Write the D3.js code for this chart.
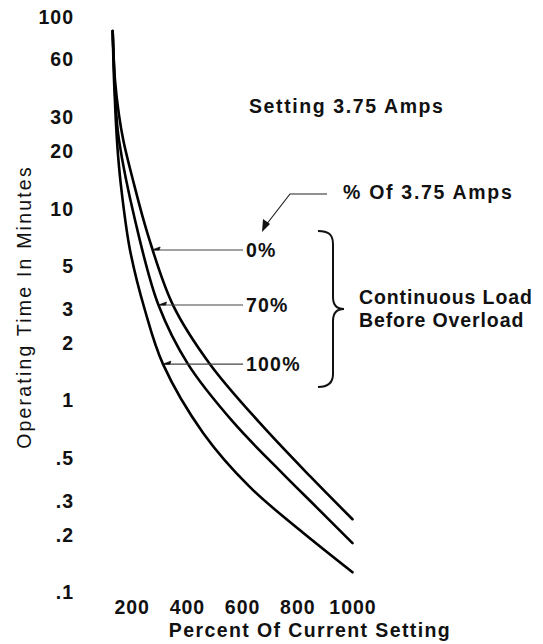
<!DOCTYPE html>
<html>
<head>
<meta charset="utf-8">
<script src="https://cdn.jsdelivr.net/npm/d3@7"></script>
<style>
  body { margin: 0; background: #fff; }
  text { font-family: "Liberation Sans", Arial, sans-serif; fill: #111; }
</style>
</head>
<body>
<div id="chart"></div>
<script>
// axis ticks
var pctTicks = [200, 400, 600, 800, 1000];
var minTicks = [100, 60, 30, 20, 10, 5, 3, 2, 1, 0.5, 0.3, 0.2, 0.1];
var minLabels = ["100", "60", "30", "20", "10", "5", "3", "2", "1", ".5", ".3", ".2", ".1"];

// curves: percent of setting vs operating time (minutes)
var curveNames = ["0%", "70%", "100%"];
var pct0 = [131, 139.5, 154, 169.6, 204.7, 259, 349.6, 483.7, 665, 846, 1000];
var min0 = [84.5, 46.9, 30.8, 22.8, 14.1, 7.3, 3.15, 1.55, 0.763, 0.404, 0.241];
var pct70 = [131, 137.7, 143.1, 154, 212, 297, 404, 568, 749, 870, 1000];
var min70 = [84.5, 46.9, 32.7, 22.8, 8.74, 3.15, 1.55, 0.772, 0.414, 0.278, 0.181];
var pct100 = [131, 135.9, 142.4, 150.4, 163, 194, 248, 313.4, 459.4, 628.6, 810, 1000];
var min100 = [84.5, 46.9, 29.0, 19.1, 12.5, 6.09, 2.96, 1.55, 0.677, 0.354, 0.211, 0.1275];

// where each leader arrow touches its curve
var annPct = [274, 297, 313];
var annMin = [6.1, 3.15, 1.55];

var width = 543;
var height = 644;

var svg = d3.select('#chart')
  .append('svg')
  .attr('width', width)
  .attr('height', height);

svg.append('rect').attr('width', width).attr('height', height).attr('fill', '#fff');

var x = d3.scaleLinear().domain([0, 1000]).range([76.5, 352.5]);
var y = d3.scaleLog().domain([0.1, 100]).range([592.5, 17]);

var fontSize = '19.5px';

function styleTicks(g) {
  g.select('.domain').remove();
  g.selectAll('text')
    .attr('font-size', fontSize)
    .attr('font-weight', 'bold')
    .attr('letter-spacing', '1px')
    .attr('font-family', '"Liberation Sans", Arial, sans-serif')
    .attr('fill', '#111');
}

// y tick labels
var yAxis = d3.axisLeft(y)
  .tickValues(minTicks)
  .tickSize(0)
  .tickPadding(0)
  .tickFormat(function(d, i) { return minLabels[i]; });
svg.append('g')
  .attr('transform', 'translate(74,0)')
  .call(yAxis)
  .call(styleTicks);

// x tick labels
var xAxis = d3.axisBottom(x)
  .tickValues(pctTicks)
  .tickSize(0)
  .tickPadding(0)
  .tickFormat(d3.format('d'));
svg.append('g')
  .attr('transform', 'translate(0,600)')
  .call(xAxis)
  .call(styleTicks);

// axis titles
svg.append('text')
  .attr('x', 310)
  .attr('y', 637)
  .attr('text-anchor', 'middle')
  .attr('font-size', fontSize)
  .attr('font-weight', 'bold')
  .attr('letter-spacing', '1.4px')
  .text('Percent Of Current Setting');

svg.append('text')
  .attr('transform', 'translate(31,307) rotate(-90)')
  .attr('text-anchor', 'middle')
  .attr('font-size', '19.5px')
  .attr('letter-spacing', '2.2px')
  .text('Operating Time In Minutes');

// curves
var series = [
  { name: curveNames[0], pct: pct0, min: min0 },
  { name: curveNames[1], pct: pct70, min: min70 },
  { name: curveNames[2], pct: pct100, min: min100 }
];

var line = d3.line()
  .x(function(d) { return x(d[0]); })
  .y(function(d) { return y(d[1]); })
  .curve(d3.curveCatmullRom.alpha(0.5));

svg.selectAll('path.curve')
  .data(series)
  .enter()
  .append('path')
  .attr('class', 'curve')
  .attr('d', function(s) {
    return line(s.pct.map(function(p, i) { return [p, s.min[i]]; }));
  })
  .attr('fill', 'none')
  .attr('stroke', '#000')
  .attr('stroke-width', 2.6)
  .attr('stroke-linecap', 'round');

// leader lines with small arrowheads
var lineEnd = 243;
series.forEach(function(s, i) {
  var tx = x(annPct[i]);
  var ty = y(annMin[i]);
  svg.append('line')
    .attr('x1', tx + 2).attr('y1', ty)
    .attr('x2', lineEnd).attr('y2', ty)
    .attr('stroke', '#444')
    .attr('stroke-width', 1.1);
  svg.append('path')
    .attr('d', 'M' + tx + ',' + ty + 'L' + (tx + 8) + ',' + (ty - 3) + 'L' + (tx + 7) + ',' + ty + 'Z')
    .attr('fill', '#111')
    .attr('stroke', '#111')
    .attr('stroke-width', 0.8);
  svg.append('text')
    .attr('x', lineEnd + 3)
    .attr('y', ty)
    .attr('dy', '0.35em')
    .attr('font-size', fontSize)
    .attr('font-weight', 'bold')
    .attr('letter-spacing', '1.2px')
    .text(s.name);
});

// title
svg.append('text')
  .attr('x', 249)
  .attr('y', 113)
  .attr('font-size', fontSize)
  .attr('font-weight', 'bold')
  .attr('letter-spacing', '1.6px')
  .text('Setting 3.75 Amps');

// "% Of 3.75 Amps" pointer
svg.append('text')
  .attr('x', 343)
  .attr('y', 199)
  .attr('font-size', fontSize)
  .attr('font-weight', 'bold')
  .attr('letter-spacing', '1.7px')
  .text('% Of 3.75 Amps');

svg.append('path')
  .attr('d', 'M327,194 L290,194 L266,225')
  .attr('fill', 'none')
  .attr('stroke', '#222')
  .attr('stroke-width', 1.2);
svg.append('path')
  .attr('d', 'M262,232 L263,219 L270,224 Z')
  .attr('fill', '#111');

// brace
svg.append('path')
  .attr('d', 'M318,231 C328,231 333,234 333,244 L333,297 C333,305 337,309 344,309 ' +
             'C337,309 333,313 333,321 L333,374 C333,383 328,387 318,387')
  .attr('fill', 'none')
  .attr('stroke', '#111')
  .attr('stroke-width', 2);

svg.append('text')
  .attr('x', 359)
  .attr('y', 304)
  .attr('font-size', fontSize)
  .attr('font-weight', 'bold')
  .attr('letter-spacing', '0.9px')
  .text('Continuous Load');
svg.append('text')
  .attr('x', 359)
  .attr('y', 327)
  .attr('font-size', fontSize)
  .attr('font-weight', 'bold')
  .attr('letter-spacing', '0.9px')
  .text('Before Overload');
</script>
</body>
</html>
